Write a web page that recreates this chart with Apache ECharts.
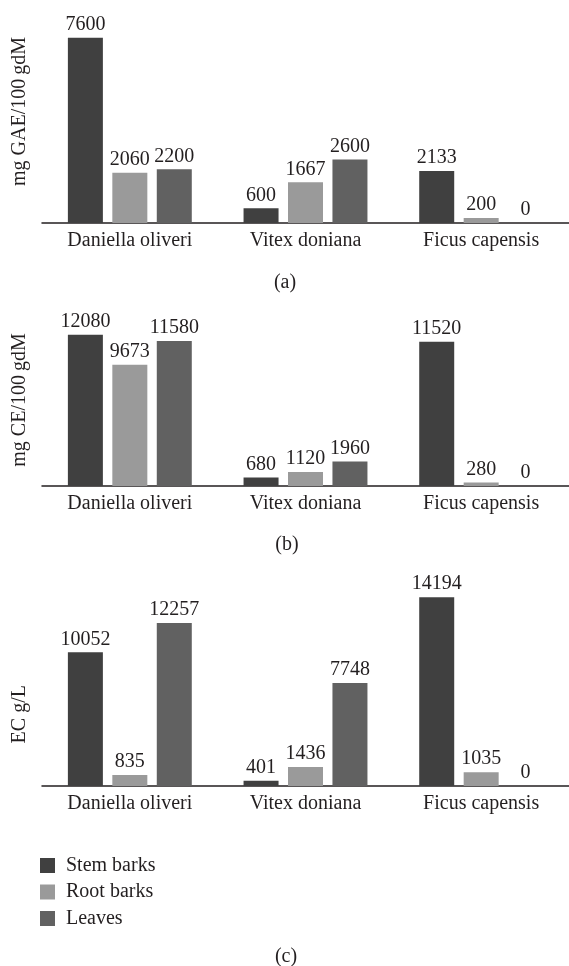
<!DOCTYPE html>
<html>
<head>
<meta charset="utf-8">
<script src="https://cdn.jsdelivr.net/npm/echarts@6/dist/echarts.min.js"></script>
<style>
html,body{margin:0;padding:0;background:#fff;}
#chart{width:569px;height:966px;}
</style>
</head>
<body>
<div id="chart"></div>
<script>
var categories = ['Daniella oliveri', 'Vitex doniana', 'Ficus capensis'];
var seriesNames = ['Stem barks', 'Root barks', 'Leaves'];
var panelTitles = ['(a)', '(b)', '(c)'];
var axisNames = ['mg GAE/100\u2009gdM', 'mg CE/100\u2009gdM', 'EC g/L'];

var gaeStem = [7600, 600, 2133];
var gaeRoot = [2060, 1667, 200];
var gaeLeaves = [2200, 2600, 0];

var ceStem = [12080, 680, 11520];
var ceRoot = [9673, 1120, 280];
var ceLeaves = [11580, 1960, 0];

var ecStem = [10052, 401, 14194];
var ecRoot = [835, 1436, 1035];
var ecLeaves = [12257, 7748, 0];

var panels = [[gaeStem, gaeRoot, gaeLeaves], [ceStem, ceRoot, ceLeaves], [ecStem, ecRoot, ecLeaves]];

var colors = ['#404040', '#9a9a9a', '#616161'];
var textColor = '#231f20';
var font = 'Liberation Serif';
var fs = 20;

var grids = [
  {left: 42, width: 529, top: 0, height: 223},
  {left: 42, width: 529, top: 314, height: 172},
  {left: 42, width: 529, top: 586.5, height: 199.5}
];
var yMax = [9146, 13732, 15000];
var namePad = [[0, 0, 0, 0], [0, 0, 0, 0], [0, 56, 0, 0]];
var titleTops = [273, 535, 947];
var titleLefts = [285, 287, 286];

var xAxes = [], yAxes = [], series = [], titles = [];
for (var p = 0; p < 3; p++) {
  xAxes.push({
    type: 'category', gridIndex: p, data: categories,
    axisLine: {show: true, lineStyle: {color: textColor, width: 1.5}},
    axisTick: {show: false},
    axisLabel: {color: textColor, fontFamily: font, fontSize: fs, margin: 8}
  });
  yAxes.push({
    type: 'value', gridIndex: p, min: 0, max: yMax[p],
    axisLine: {show: false}, axisTick: {show: false}, axisLabel: {show: false},
    splitLine: {show: false},
    name: axisNames[p], nameLocation: 'middle', nameGap: 12,
    nameTextStyle: {color: textColor, fontFamily: font, fontSize: fs, padding: namePad[p]}
  });
  for (var s = 0; s < 3; s++) {
    series.push({
      type: 'bar', name: seriesNames[s], xAxisIndex: p, yAxisIndex: p,
      data: panels[p][s], barWidth: 35, barGap: '27%',
      itemStyle: {color: colors[s]},
      label: {show: true, position: 'top', distance: 3, color: textColor, fontFamily: font, fontSize: fs},
      animation: false
    });
  }
  titles.push({
    text: panelTitles[p], left: titleLefts[p], top: titleTops[p], textAlign: 'center', padding: 0,
    textStyle: {color: textColor, fontFamily: font, fontSize: fs, fontWeight: 'normal', lineHeight: 20}
  });
}

var chart = echarts.init(document.getElementById('chart'), null, {renderer: 'canvas'});
chart.setOption({
  animation: false,
  backgroundColor: '#ffffff',
  title: titles,
  grid: grids,
  xAxis: xAxes,
  yAxis: yAxes,
  legend: {
    data: seriesNames, orient: 'vertical', left: 40, top: 855.5, padding: 0,
    icon: 'rect', itemWidth: 15, itemHeight: 15, itemGap: 6.5,
    textStyle: {color: textColor, fontFamily: font, fontSize: fs, lineHeight: 20, padding: [0, 0, 0, 6]}
  },
  series: series
});
</script>
</body>
</html>
